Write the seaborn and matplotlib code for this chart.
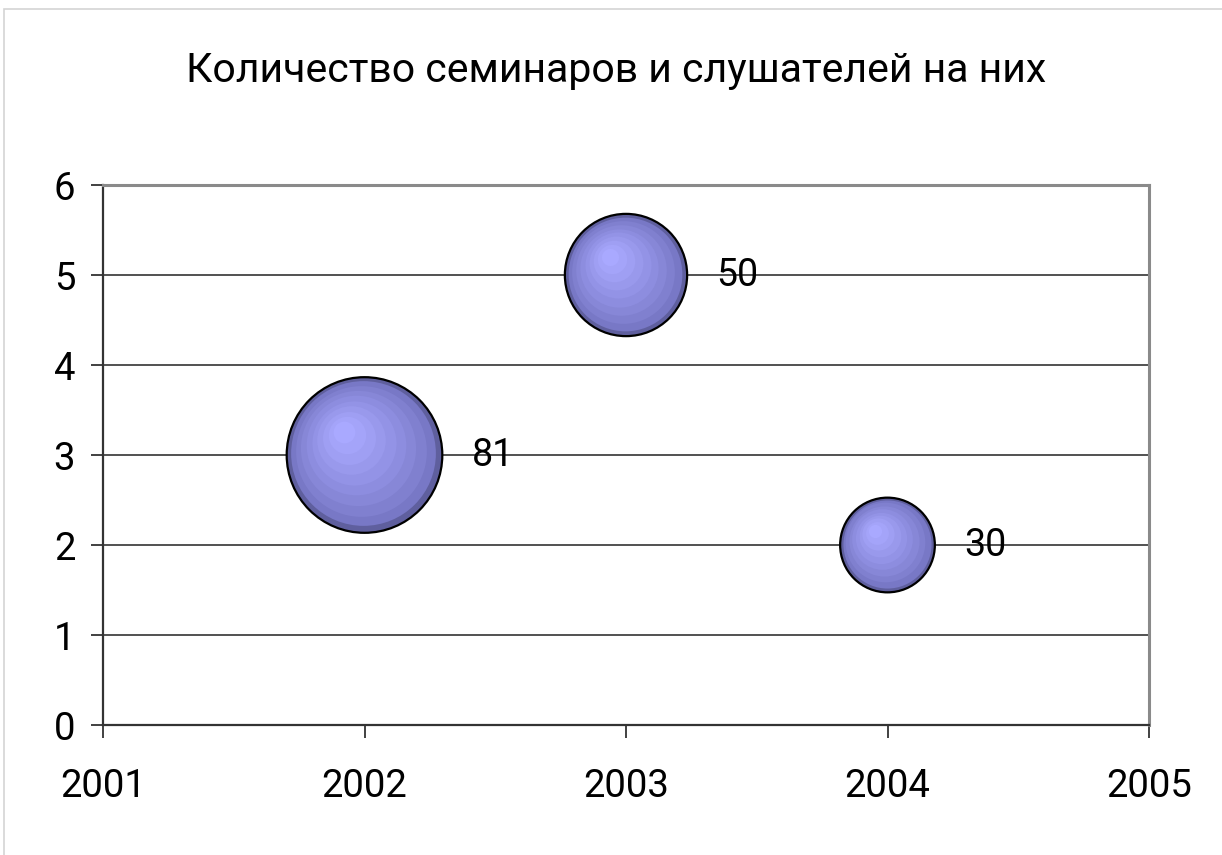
import numpy as np
import pandas as pd
import matplotlib
matplotlib.use("Agg")
import matplotlib.pyplot as plt
import matplotlib.transforms as mtransforms
from matplotlib.colors import to_rgb
import seaborn as sns

# ---- data ----
years = [2002, 2003, 2004]
seminars = [3, 5, 2]
listeners = [81, 50, 30]
x_ticks = [2001, 2002, 2003, 2004, 2005]
y_ticks = [0, 1, 2, 3, 4, 5, 6]
title = "Количество семинаров и слушателей на них"

df = pd.DataFrame({"year": years, "seminars": seminars, "listeners": listeners})

sns.set_theme(style="white")
plt.rcParams["font.family"] = ["Roboto", "DejaVu Sans"]

W, H = 1222, 855
fig = plt.figure(figsize=(W / 100, H / 100), dpi=100)
ax = fig.add_axes([103 / W, 1 - 725 / H, (1149 - 103) / W, (725 - 185) / H])

SCALE = 155.0  # points^2 per listener
max_l = max(listeners)

base_col = "#5F5F9E"
outer = np.array(to_rgb("#6C6CB8"))
inner = np.array(to_rgb("#A9A9FF"))

sns.scatterplot(data=df, x="year", y="seminars", size="listeners",
                sizes=(0, SCALE * max_l), size_norm=(0, max_l),
                color=base_col, edgecolor="black", linewidth=1.6,
                legend=False, ax=ax, zorder=3)

# radial-gradient shading layers
fracs = [0.93, 0.84, 0.74, 0.64, 0.54, 0.44, 0.34, 0.24, 0.14]
for xv, yv, lv in zip(years, seminars, listeners):
    s = SCALE * lv
    r = np.sqrt(s) / 2.0
    for i, f in enumerate(fracs):
        t = ((i + 1) / len(fracs)) ** 0.75
        col = outer + (inner - outer) * t
        dx = -(1 - f) * 0.30 * r
        dy = (1 - f) * 0.34 * r
        tr = mtransforms.offset_copy(ax.transData, fig=fig, x=dx, y=dy, units="points")
        ax.scatter([xv], [yv], s=s * f * f, color=col, linewidths=0,
                   transform=tr, zorder=4 + i * 0.01)
    ax.annotate(str(lv), (xv, yv), xytext=(r + 21, 0), textcoords="offset points",
                ha="left", va="center", fontsize=27, color="black", zorder=6)

ax.set_xlim(x_ticks[0], x_ticks[-1])
ax.set_ylim(y_ticks[0], y_ticks[-1])
ax.set_xticks(x_ticks)
ax.set_yticks(y_ticks)
ax.set_xticklabels([str(v) for v in x_ticks])
ax.set_xlabel("")
ax.set_ylabel("")
ax.yaxis.grid(True, color="#222222", linewidth=1.1, zorder=1)
ax.xaxis.grid(False)
ax.set_axisbelow(True)

ax.tick_params(axis="both", which="major", direction="out", length=9, width=1.3,
               color="#333333", labelsize=27.5, labelcolor="black")
ax.tick_params(axis="x", pad=22)
ax.tick_params(axis="y", pad=11)
ax.tick_params(bottom=True, left=True)

for side in ["left", "bottom"]:
    ax.spines[side].set_color("#333333")
    ax.spines[side].set_linewidth(1.6)
for side in ["top", "right"]:
    ax.spines[side].set_color("#8A8A8A")
    ax.spines[side].set_linewidth(2.2)
    ax.spines[side].set_visible(True)

fig.text(616 / W, 1 - 70 / H, title, ha="center", va="center", fontsize=29.5, color="black")

# outer chart frame
frame = plt.Rectangle((4 / W, -0.01), 1.02, 1 - 9 / H + 0.01, transform=fig.transFigure,
                      fill=False, edgecolor="#D4D4D4", linewidth=1.2, zorder=0)
fig.patches.append(frame)

fig.savefig("out.png", dpi=100, facecolor="white")
